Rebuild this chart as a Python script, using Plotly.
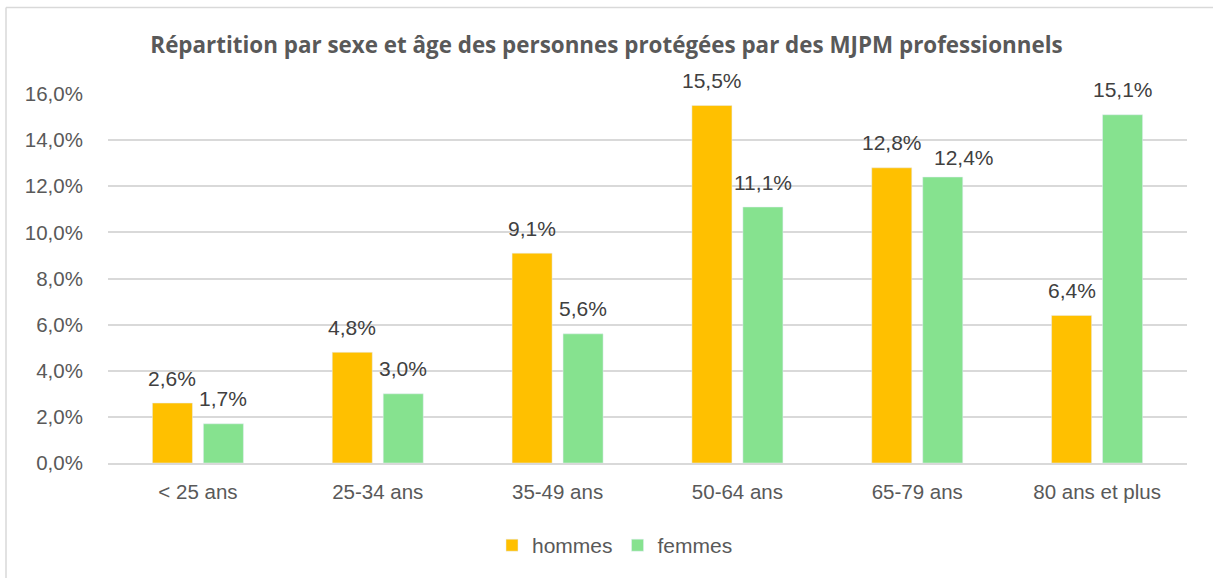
import plotly.graph_objects as go

categories = ["< 25 ans", "25-34 ans", "35-49 ans", "50-64 ans", "65-79 ans", "80 ans et plus"]
hommes = [2.6, 4.8, 9.1, 15.5, 12.8, 6.4]
femmes = [1.7, 3.0, 5.6, 11.1, 12.4, 15.1]
y_ticks = [0, 2, 4, 6, 8, 10, 12, 14, 16]
y_tick_labels = [f"{v:.1f}%".replace(".", ",") for v in y_ticks]

W, H = 1213, 578
L, R, T, B = 108, 26, 94, 113
pw, ph = W - L - R, H - T - B
BARGAP = 0.433
GROUPGAP = 0.215

FONT = "Liberation Sans, Arial, sans-serif"
label_font = dict(family=FONT, size=21, color="#404040")

fig = go.Figure()
fig.add_trace(go.Bar(x=categories, y=hommes, name="hommes", marker_color="#FFC000"))
fig.add_trace(go.Bar(x=categories, y=femmes, name="femmes", marker_color="#86E28F"))

# data labels above bars (Excel-like spacing)
cat_px = pw / len(categories)
slot_px = cat_px * (1 - BARGAP) / 2
annotations = []
label_nudge = {("femmes", "65-79 ans"): (21, -5)}  # Excel moved this label aside
for name, vals, sign in (("hommes", hommes, -1), ("femmes", femmes, 1)):
    for c, v in zip(categories, vals):
        dx, dy = label_nudge.get((name, c), (0, 0))
        annotations.append(dict(
            x=c, y=v, xref="x", yref="y", showarrow=False,
            text=f"{v:.1f}%".replace(".", ","), font=label_font,
            xanchor="center", yanchor="middle",
            xshift=sign * slot_px / 2 + dx, yshift=25 + dy))

def px_x(p):
    return (p - L) / pw

def px_y(p):
    return (H - B - p) / ph

fig.update_layout(
    width=W, height=H,
    margin=dict(l=L, r=R, t=T, b=B),
    paper_bgcolor="white", plot_bgcolor="white",
    separators=",.",
    barmode="group", bargap=BARGAP, bargroupgap=GROUPGAP,
    title=dict(text="<b>Répartition par sexe et âge des personnes protégées par des MJPM professionnels</b>",
               x=0.5, xanchor="center", y=1 - 45 / H, yanchor="middle",
               font=dict(family="Open Sans, Lato, sans-serif", size=22.4, color="#595959")),
    xaxis=dict(showgrid=False, showline=True, linecolor="#d9d9d9", linewidth=1.5,
               ticks="outside", ticklen=10, tickcolor="rgba(0,0,0,0)",
               tickfont=dict(family=FONT, size=20.5, color="#595959")),
    yaxis=dict(range=[0, 16], tickmode="array", tickvals=y_ticks, ticktext=y_tick_labels,
               showgrid=True, gridcolor="#d9d9d9", gridwidth=1.5, zeroline=False,
               ticks="outside", ticklen=20, tickcolor="rgba(0,0,0,0)",
               tickfont=dict(family=FONT, size=20.5, color="#595959")),
    legend=dict(orientation="h", x=px_x(615), xanchor="center", y=px_y(548), yanchor="middle",
                font=dict(family=FONT, size=21, color="#595959"),
                traceorder="normal"),
    showlegend=True,
    annotations=annotations,
    shapes=[
        dict(type="line", xref="paper", yref="paper", x0=px_x(6), x1=px_x(6),
             y0=px_y(7), y1=px_y(600), line=dict(color="#d9d9d9", width=1.5), layer="below"),
        dict(type="line", xref="paper", yref="paper", x0=px_x(6), x1=px_x(1230),
             y0=px_y(7), y1=px_y(7), line=dict(color="#d9d9d9", width=1.5), layer="below"),
    ],
)

fig.write_html("out.html", config={"displayModeBar": False},
               post_script="document.body.style.margin='0';document.body.style.overflow='hidden';")
